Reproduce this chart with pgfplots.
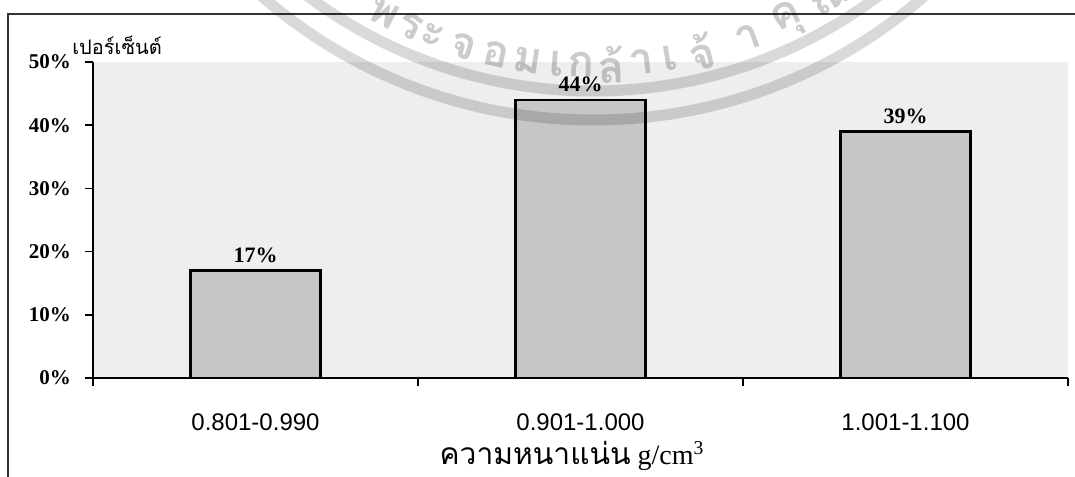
\documentclass[border=0pt]{standalone}
\usepackage{pgfplots}
\pgfplotsset{compat=1.18}
\usepackage{fontspec}
\setmainfont{Liberation Serif}
\newfontfamily\thaifont[Script=Thai]{Loma}
\newfontfamily\arialfont{Liberation Sans}

\definecolor{plotbg}{HTML}{EEEEEE}
\definecolor{barfill}{HTML}{C6C6C6}

\begin{document}
\begin{tikzpicture}
% page area: 537.5pt x 238pt
\clip (0,0) rectangle (537.5pt,238pt);
\fill[white] (0,0) rectangle (537.5pt,238pt);
% outer chart frame
\draw[line width=0.6pt, black!80] (4pt,-20pt) -- (4pt,231pt) -- (560pt,231pt);

\begin{axis}[
  at={(46.5pt,49pt)}, anchor=south west,
  scale only axis,
  width=487.5pt, height=158pt,
  ybar, bar width=0.4,
  xmin=0.5, xmax=3.5,
  ymin=0, ymax=50,
  axis x line=bottom, axis y line=left,
  axis line style={-, line width=0.8pt, black},
  axis background/.style={fill=plotbg},
  tick align=outside,
  major tick length=4pt,
  tick style={line width=0.8pt, black},
  xtick={0.5,1.5,2.5,3.5},
  x tick label as interval,
  xticklabels={0.801-0.990, 0.901-1.000, 1.001-1.100},
  xticklabel style={font=\arialfont\fontsize{12pt}{14pt}\selectfont, yshift=-10.5pt},
  ytick={0,10,20,30,40,50},
  yticklabel={\pgfmathprintnumber{\tick}\%},
  yticklabel style={font=\bfseries\fontsize{10.5pt}{12pt}\selectfont, xshift=-3.5pt},
  /pgf/number format/assume math mode=true,
  nodes near coords={\pgfmathprintnumber{\pgfplotspointmeta}\%},
  nodes near coords style={font=\bfseries\fontsize{11pt}{13pt}\selectfont, anchor=south, yshift=0pt},
  clip=false,
]
\addplot[fill=barfill, draw=black, line width=1.1pt] coordinates {(1,17) (2,44) (3,39)};
\end{axis}

% faint seal in the background: two rings and curved lettering
\coordinate (seal) at (296.5pt,430.5pt);
\begin{scope}[opacity=0.15, line width=5.5pt, black]
  \draw (seal) circle (252.5pt);
  \draw (seal) circle (238pt);
\end{scope}
\begin{scope}[text opacity=0.2, font=\thaifont\bfseries\fontsize{22pt}{24pt}\selectfont, inner sep=0pt]
  \foreach \ang/\ch in {-27.7/พ, -23.9/ร, -20.9/ะ, -16.7/จ, -12.5/อ, -8.4/ม, -4.6/เ, -1.5/ก, 2.3/ล้, 6.2/า, 9.8/เ, 14.0/จ้, 20.1/า, 25.7/คุ, 31.9/ณ}
    \path (seal) ++(-90+\ang:225pt) node[rotate=\ang] {\ch};
\end{scope}

% axis unit and axis title
\node[anchor=base west, inner sep=0pt] at (36pt,210.5pt) {\thaifont\fontsize{10pt}{12pt}\selectfont เปอร์เซ็นต์};
\node[anchor=base, inner sep=0pt] at (286pt,5.5pt) {\fontsize{14pt}{16pt}\selectfont{\thaifont\fontsize{15pt}{17pt}\selectfont ความหนาแน่น} g/cm\textsuperscript{3}};
\end{tikzpicture}
\end{document}
